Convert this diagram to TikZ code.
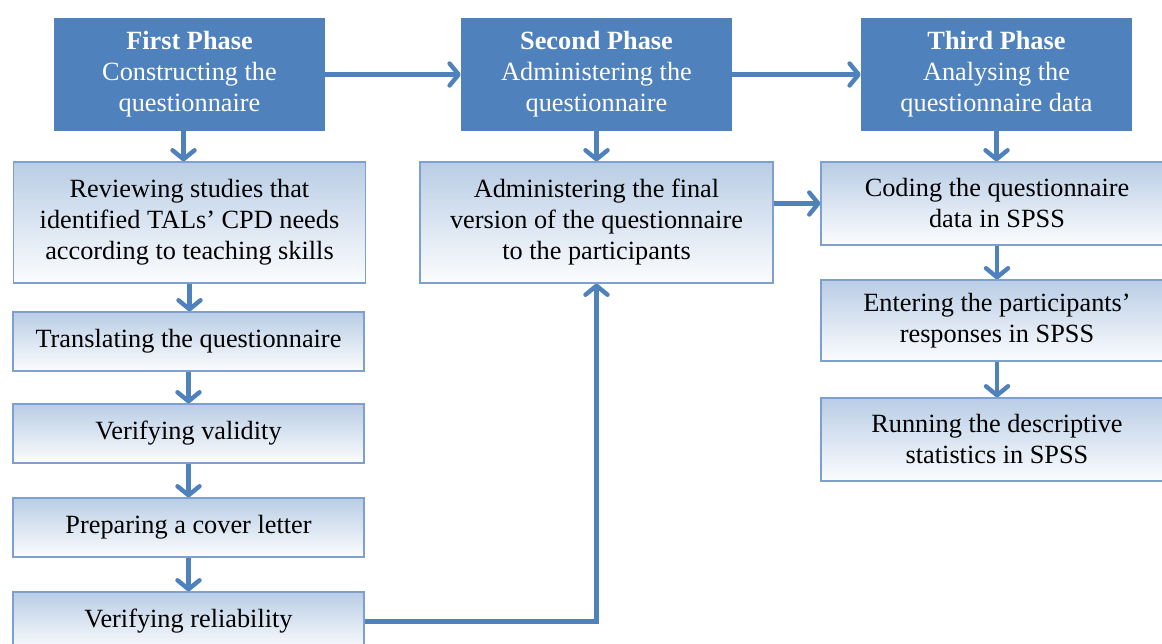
\documentclass[tikz,border=0pt]{standalone}
\usepackage{fontspec}
\setmainfont{Liberation Serif}
\usetikzlibrary{arrows.meta,calc}
\definecolor{hdr}{HTML}{4F81BD}
\definecolor{boxtop}{HTML}{B9CDE5}
\definecolor{boxline}{HTML}{7DA0CE}
\begin{document}
\begin{tikzpicture}[x=1pt,y=-1pt,
  every node/.style={font=\fontsize{26.3}{31}\selectfont, align=center, inner sep=0pt},
  phase/.style={fill=hdr, text=white, minimum width=271pt, minimum height=113pt},
  stepbox/.style={draw=boxline, line width=1.1pt, top color=boxtop, bottom color=white!95!boxtop,
    minimum width=352pt},
  flow/.style={draw=hdr, line width=4.4pt, -{Straight Barb[length=9pt,width=22pt,round]}}]
\path[fill=white, use as bounding box] (0,0) rectangle (1162,644);
\clip (0,0) rectangle (1162,644);

% phase headers
\node[phase] (h1) at (189.5,74.5) {\textbf{First Phase}\\Constructing the\\questionnaire};
\node[phase] (h2) at (596.5,74.5) {\textbf{Second Phase}\\Administering the\\questionnaire};
\node[phase] (h3) at (996.5,74.5) {\textbf{Third Phase}\\Analysing the\\questionnaire data};

% first phase steps
\node[stepbox, minimum height=121pt] (r1) at (189.5,222.5) {Reviewing studies that\\identified TALs’ CPD needs\\according to teaching skills};
\node[stepbox, minimum width=351pt, minimum height=59pt] (r2) at (188.5,341.5) {Translating the questionnaire};
\node[stepbox, minimum width=351pt, minimum height=59pt] (r3) at (188.5,433.5) {Verifying validity};
\node[stepbox, minimum width=351pt, minimum height=59pt] (r4) at (188.5,527.5) {Preparing a cover letter};
\node[stepbox, minimum width=351pt, minimum height=59pt] (r5) at (188.5,621.5) {Verifying reliability};

% second phase step
\node[stepbox, minimum width=353pt, minimum height=121pt] (m1) at (596.5,222.5) {Administering the final\\version of the questionnaire\\to the participants};

% third phase steps
\node[stepbox, minimum height=83pt] (c1) at (997,203.5) {Coding the questionnaire\\data in SPSS};
\node[stepbox, minimum height=81pt] (c2) at (997,320.5) {Entering the participants’\\responses in SPSS};
\node[stepbox, minimum height=83pt] (c3) at (997,439.5) {Running the descriptive\\statistics in SPSS};

% connectors
\draw[flow] (h1.east) -- (h2.west);
\draw[flow] (h2.east) -- (h3.west);
\draw[flow] ([xshift=-6pt]h1.south) -- ([xshift=-6pt]h1.south |- r1.north);
\draw[flow] (r1.south) -- (r1.south |- r2.north);
\draw[flow] (r2.south) -- (r3.north);
\draw[flow] (r3.south) -- (r4.north);
\draw[flow] (r4.south) -- (r5.north);
\draw[flow] (h2.south) -- (m1.north);
\draw[flow] (m1.east |- c1.west) -- (c1.west);
\draw[flow] (r5.east) -| (m1.south);
\draw[flow] (h3.south) -- (h3.south |- c1.north);
\draw[flow] (c1.south) -- (c2.north);
\draw[flow] (c2.south) -- (c3.north);
\end{tikzpicture}
\end{document}
